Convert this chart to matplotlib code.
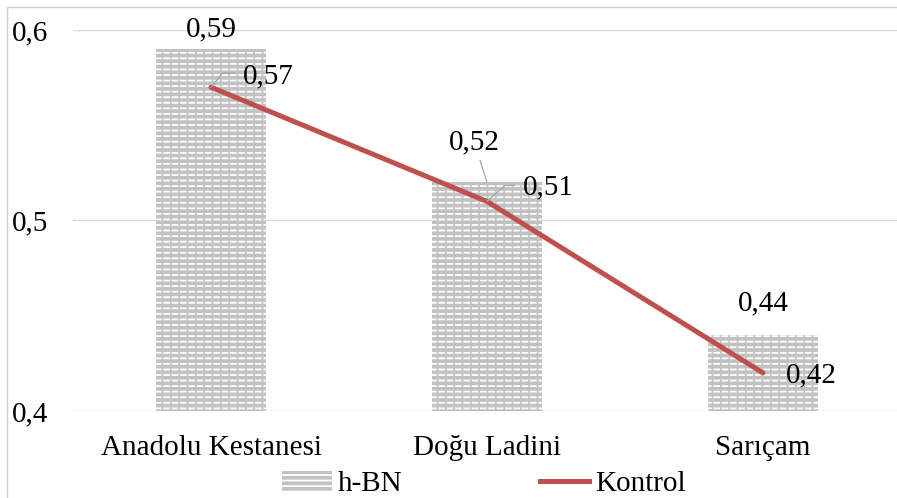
import matplotlib.pyplot as plt
from matplotlib.patches import Rectangle
from matplotlib.lines import Line2D

plt.rcParams['font.family'] = ['Liberation Serif', 'DejaVu Serif']
plt.rcParams['hatch.linewidth'] = 1.3

# Datos
turler = ["Anadolu Kestanesi", "Doğu Ladini", "Sarıçam"]
hbn = [0.59, 0.52, 0.44]
kontrol = [0.57, 0.51, 0.42]
hbn_etiket = ["0,59", "0,52", "0,44"]
kontrol_etiket = ["0,57", "0,51", "0,42"]
y_ticks = [0.4, 0.5, 0.6]
y_tick_labels = ["0,4", "0,5", "0,6"]

FS = 21
gris = "#c2c2c2"
rojo = "#c0504d"
guia = "#a6a6a6"

fig = plt.figure(figsize=(8.97, 4.98), dpi=100)
ax = fig.add_axes([73 / 897, 87 / 498, 828 / 897, 381 / 498])

# Marco exterior
fig.patches.append(Rectangle((7 / 897, -0.1), 1.2, (491 / 498) + 0.1,
                             transform=fig.transFigure, fill=False,
                             edgecolor="#d0d0d0", linewidth=1.0))

x = range(len(turler))

# Barras con trama (rayas blancas cortadas)
ax.bar(x, hbn, width=0.4, color=gris, edgecolor="white",
       hatch="---", linewidth=0, zorder=2)
ax.bar(x, hbn, width=0.4, fill=False, edgecolor=gris,
       hatch="||", linewidth=0, zorder=2)

# Línea de control
ax.plot(x, kontrol, color=rojo, linewidth=3.6,
        solid_capstyle="round", zorder=3)

ax.set_xlim(-0.5, 2.5)
ax.set_ylim(0.4, 0.6)
ax.set_yticks(y_ticks)
ax.set_yticklabels(y_tick_labels, fontsize=FS)
ax.set_xticks(list(x))
ax.set_xticklabels(turler, fontsize=FS)
ax.tick_params(axis="y", length=0, pad=18)
ax.tick_params(axis="x", length=0, pad=17)

ax.grid(axis="y", color="#d9d9d9", linewidth=1.0, zorder=0)
for s in ax.spines.values():
    s.set_visible(False)
ax.set_axisbelow(True)

# Etiquetas de barras
off_bar = [(0, 20), (-13, 40), (0, 31)]
for i, (v, t) in enumerate(zip(hbn, hbn_etiket)):
    ax.annotate(t, (i, v), xytext=off_bar[i], textcoords="offset pixels",
                ha="center", va="center", fontsize=FS, zorder=4)

# línea guía 0,52
ax.annotate("", (1, hbn[1]), xytext=(-7, 22), textcoords="offset pixels",
            arrowprops=dict(arrowstyle="-", color=guia, lw=0.9,
                            shrinkA=0, shrinkB=0))

# Etiquetas de línea
off_lin = [(32, 11), (36, 14), (23, -2)]
for i, (v, t) in enumerate(zip(kontrol, kontrol_etiket)):
    ax.annotate(t, (i, v), xytext=off_lin[i], textcoords="offset pixels",
                ha="left", va="center", fontsize=FS, zorder=4)

# líneas guía (tramo horizontal + diagonal) hacia la línea
guias = [(0, (24, 14), 50), (1, (28, 16), 42)]
for i, (dx, dy), ang in guias:
    ax.annotate("", xy=(i, kontrol[i]), xytext=(dx, dy),
                textcoords="offset pixels",
                arrowprops=dict(arrowstyle="-", color=guia, lw=0.9,
                                shrinkA=0, shrinkB=0,
                                connectionstyle="angle,angleA=0,angleB=%d,rad=0" % ang))

# Leyenda
h_bar = Rectangle((0, 0), 1, 1, facecolor=gris, edgecolor="white",
                  hatch="---", linewidth=0)
h_line = Line2D([], [], color=rojo, linewidth=3.6)
fig.legend([h_bar, h_line], ["h-BN", "Kontrol"], loc="center",
           bbox_to_anchor=(484 / 897, 1 - 484 / 498), ncol=2, frameon=False,
           fontsize=FS, handlelength=1.7, handletextpad=0.2,
           columnspacing=4.7, borderaxespad=0, borderpad=0)

fig.savefig("out.png", dpi=100)
